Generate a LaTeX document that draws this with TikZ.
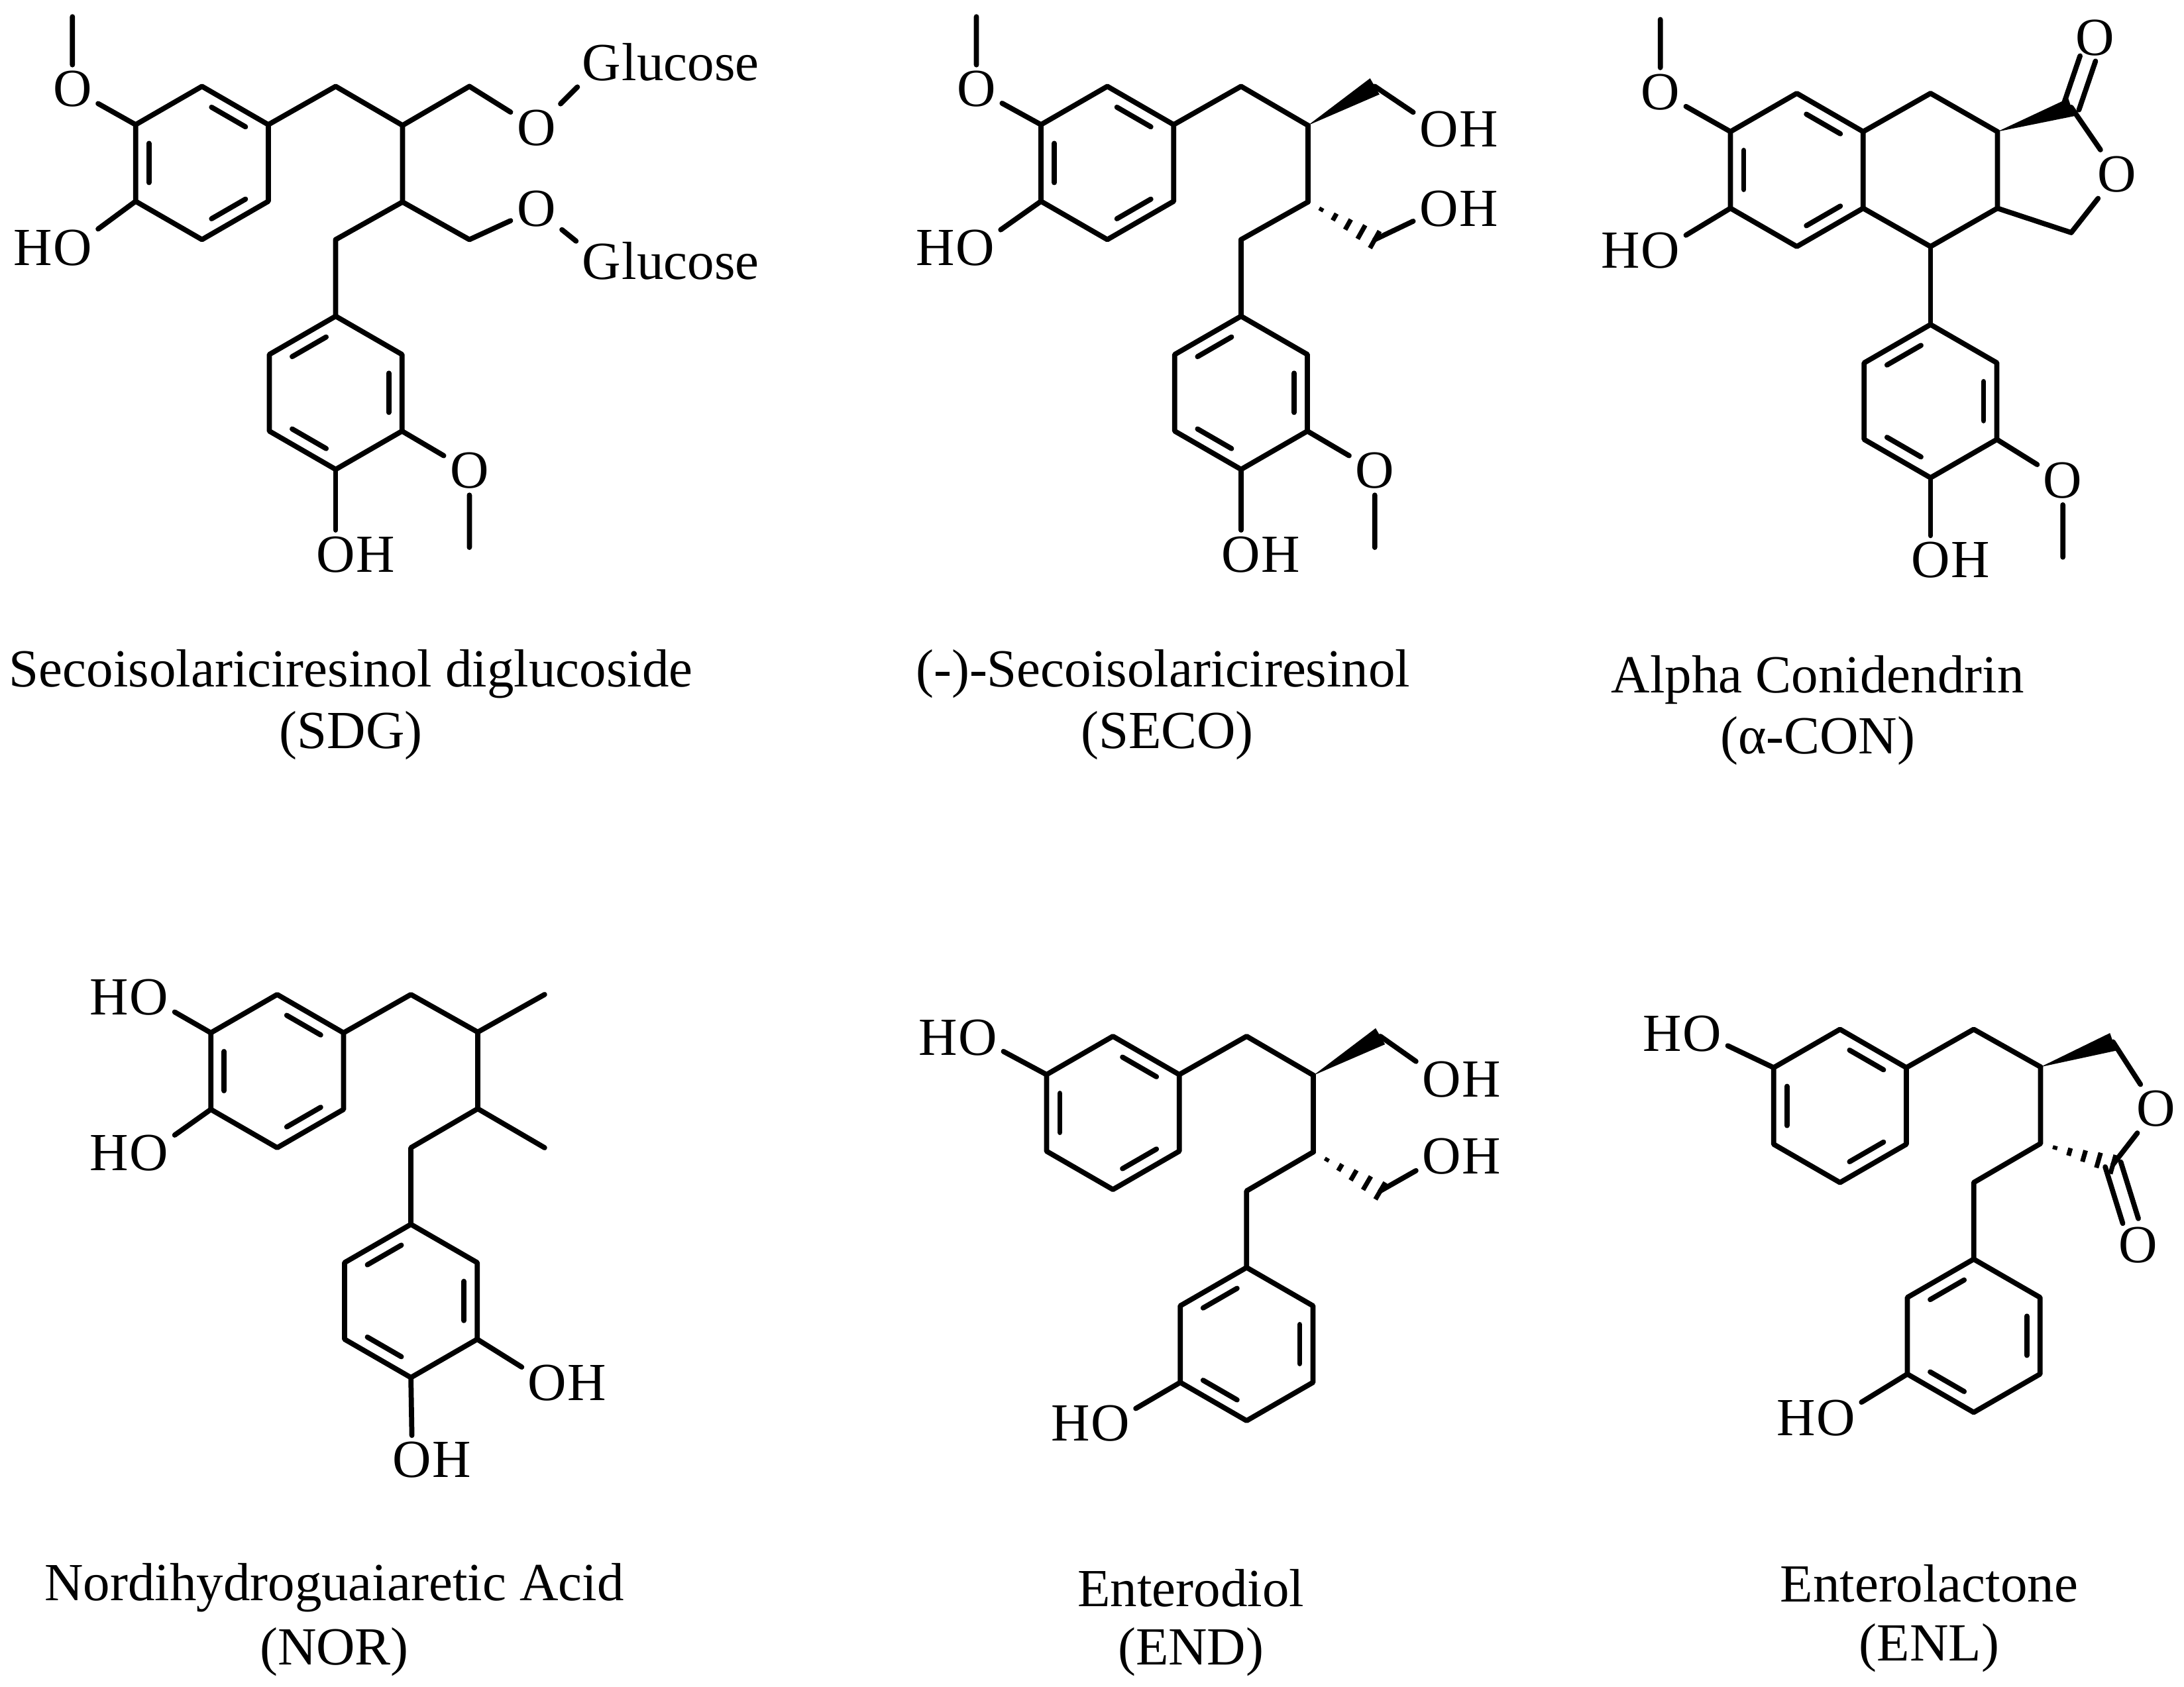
\documentclass[tikz,border=0pt]{standalone}
\usepackage{fontspec}
\setmainfont{Liberation Serif}
\usetikzlibrary{calc}
\newcommand\af{\fontsize{23}{27}\selectfont}
\tikzset{
  bond/.style={line width=2.2pt, line cap=round, line join=round},
  atom/.style={inner sep=2.5pt, font=\af},
  hl/.style={inner sep=0pt, font=\af},
  title/.style={inner sep=0pt, font=\af}
}
\newcommand\hexring[4]{%
  \coordinate (#1c) at (#2,#3);
  \foreach \k/\a in {1/-90,2/-30,3/30,4/90,5/150,6/210}{\coordinate (#1\k) at ($(#1c)+(\a:55)$);}
  \draw[bond] (#11)--(#12)--(#13)--(#14)--(#15)--(#16)--cycle;
  \foreach \i/\j in {#4}{\draw[bond] ($(#1\i)!.18!(#1\j)!.2!(#1c)$) -- ($(#1\j)!.18!(#1\i)!.2!(#1c)$);}
}
\newcommand\bwedge[2]{\fill (#1) -- ($(#2)!4pt!90:(#1)$) -- ($(#2)!4pt!-90:(#1)$) -- cycle;}
\newcommand\hwedge[2]{\foreach \t in {0.2,0.4,0.6,0.8,1.0}{\pgfmathsetmacro\w{4.2*\t}\draw[line width=2pt] ($(#1)!\t!(#2)!\w pt!90:(#1)$) -- ($(#1)!\t!(#2)!\w pt!-90:(#1)$);}}
\newcommand\OH[3]{\node[atom] (#1) at (#2,#3) {O}; \node[hl, anchor=base west] at ([xshift=-2.5pt]#1.base east) {H};}
\newcommand\HO[3]{\node[atom] (#1) at (#2,#3) {O}; \node[hl, anchor=base east] at ([xshift=2.5pt]#1.base west) {H};}
\newcommand\dbl[3]{%
  \coordinate (#3) at ($(#2)!0.3!(#1)$);
  \draw[bond] ($(#1)!3.5pt!90:(#3)$) -- ($(#3)!3.5pt!-90:(#1)$);
  \draw[bond] ($(#1)!3.5pt!-90:(#3)$) -- ($(#3)!3.5pt!90:(#1)$);}
\begin{document}
\begin{tikzpicture}[x=0.021cm,y=-0.021cm]
\useasboundingbox[fill=white] (0,0) rectangle (1568,1211);

% ---------- SDG ----------
\hexring{sa}{145}{117}{1/2,5/6,3/4}
\hexring{sb}{241}{282}{6/1,2/3,4/5}
\coordinate (s1) at (241,62); \coordinate (s2) at (289,90); \coordinate (s3) at (337,62);
\coordinate (s4) at (289,145); \coordinate (s5) at (337,172); \coordinate (s6) at (241,172);
\node[atom] (sO1) at (385,92) {O}; \node[atom] (sO2) at (385,150) {O};
\node[atom] (sG1) at (432,45) {G}; \node[hl,anchor=base west] at ([xshift=-2.5pt]sG1.base east) {lucose};
\node[atom] (sG2) at (432,188) {G}; \node[hl,anchor=base west] at ([xshift=-2.5pt]sG2.base east) {lucose};
\draw[bond] (sa2)--(s1)--(s2)--(s3)--(sO1); \draw[bond] (sO1)--(sG1);
\draw[bond] (s2)--(s4)--(s5)--(sO2); \draw[bond] (sO2)--(sG2);
\draw[bond] (s4)--(s6)--(sb1);
\node[atom] (sOm) at (52,64) {O}; \coordinate (sMe) at (52,12);
\draw[bond] (sa6)--(sOm)--(sMe);
\HO{sOh}{52}{178} \draw[bond] (sa5)--(sOh);
\node[atom] (sbO) at (337,338) {O}; \coordinate (sbMe) at (337,393);
\draw[bond] (sb3)--(sbO)--(sbMe);
\OH{sbOH}{241}{398} \draw[bond] (sb4)--(sbOH);
\node[title] (t1) at (252,484) {Secoisolariciresinol diglucoside};
\node[title] (t1b) at (252,528) {(SDG)};

% ---------- SECO ----------
\hexring{ea}{795}{117}{1/2,5/6,3/4}
\hexring{eb}{891}{282}{6/1,2/3,4/5}
\coordinate (e1) at (891,62); \coordinate (e2) at (939,90); \coordinate (e3) at (987,62);
\coordinate (e4) at (939,145); \coordinate (e5) at (987,172); \coordinate (e6) at (891,172);
\OH{eOH1}{1033}{93} \OH{eOH2}{1033}{150}
\draw[bond] (ea2)--(e1)--(e2); \bwedge{e2}{e3} \draw[bond] (e3)--(eOH1);
\draw[bond] (e2)--(e4); \hwedge{e4}{e5} \draw[bond] (e5)--(eOH2);
\draw[bond] (e4)--(e6)--(eb1);
\node[atom] (eOm) at (701,64) {O}; \coordinate (eMe) at (701,12);
\draw[bond] (ea6)--(eOm)--(eMe);
\HO{eOh}{700}{178} \draw[bond] (ea5)--(eOh);
\node[atom] (ebO) at (987,338) {O}; \coordinate (ebMe) at (987,393);
\draw[bond] (eb3)--(ebO)--(ebMe);
\OH{ebOH}{891}{398} \draw[bond] (eb4)--(ebOH);
\node[title] (t2) at (835,484) {(-)-Secoisolariciresinol};
\node[title] (t2b) at (838,528) {(SECO)};

% ---------- alpha-CON ----------
\hexring{ca}{1290}{122}{1/2,5/6,3/4}
\hexring{cb}{1386}{288}{6/1,2/3,4/5}
\coordinate (c1) at (1386,67); \coordinate (c2) at (1434,94.5);
\coordinate (c3) at (1434,149.5); \coordinate (c4) at (1386,177);
\coordinate (cC) at (1487,77); \coordinate (cH2) at (1487,167);
\node[atom] (cOr) at (1520,125) {O}; \node[atom] (cO) at (1504,27) {O};
\draw[bond] (ca2)--(c1)--(c2)--(c3)--(c4)--(ca3);
\bwedge{c2}{cC}
\draw[bond] (cC)--(cOr)--(cH2)--(c3);
\dbl{cC}{cO}{cOe}
\draw[bond] (c4)--(cb1);
\node[atom] (cOm) at (1192,66) {O}; \coordinate (cMe) at (1192,14);
\draw[bond] (ca6)--(cOm)--(cMe);
\HO{cOh}{1192}{180} \draw[bond] (ca5)--(cOh);
\node[atom] (cbO) at (1481,345) {O}; \coordinate (cbMe) at (1481,400);
\draw[bond] (cb3)--(cbO)--(cbMe);
\OH{cbOH}{1386}{402} \draw[bond] (cb4)--(cbOH);
\node[title] (t3) at (1305,488) {Alpha Conidendrin};
\node[title] (t3b) at (1305,532) {(α-CON)};

% ---------- NOR ----------
\hexring{na}{199}{769}{1/2,5/6,3/4}
\hexring{nb}{295}{934}{6/1,2/3,4/5}
\coordinate (n1) at (295,714); \coordinate (n2) at (343,741); \coordinate (nMe1) at (391,714);
\coordinate (n3) at (343,796); \coordinate (nMe2) at (391,824); \coordinate (n4) at (295,824);
\draw[bond] (na2)--(n1)--(n2)--(nMe1); \draw[bond] (n2)--(n3)--(nMe2);
\draw[bond] (n3)--(n4)--(nb1);
\HO{nOh1}{107}{716} \draw[bond] (na6)--(nOh1);
\HO{nOh2}{107}{828} \draw[bond] (na5)--(nOh2);
\OH{nOh3}{393}{993} \draw[bond] (nb3)--(nOh3);
\OH{nOh4}{296}{1048} \draw[bond] (nb4)--(nOh4);
\node[title] (t4) at (240,1140) {Nordihydroguaiaretic Acid};
\node[title] (t4b) at (240,1186) {(NOR)};

% ---------- END ----------
\hexring{da}{799}{799}{1/2,5/6,3/4}
\hexring{db}{895}{965}{6/1,2/3,4/5}
\coordinate (d1) at (895,744); \coordinate (d2) at (943,772); \coordinate (d3) at (991,744);
\coordinate (d4) at (943,827); \coordinate (d5) at (991,855); \coordinate (d6) at (895,855);
\OH{dOH1}{1035}{775} \OH{dOH2}{1035}{830}
\draw[bond] (da2)--(d1)--(d2); \bwedge{d2}{d3} \draw[bond] (d3)--(dOH1);
\draw[bond] (d2)--(d4); \hwedge{d4}{d5} \draw[bond] (d5)--(dOH2);
\draw[bond] (d4)--(d6)--(db1);
\HO{dOh1}{702}{745} \draw[bond] (da6)--(dOh1);
\HO{dOh2}{797}{1022} \draw[bond] (db5)--(dOh2);
\node[title] (t5) at (855,1140) {Enterodiol};
\node[title] (t5b) at (855,1186) {(END)};

% ---------- ENL ----------
\hexring{la}{1321}{794}{1/2,5/6,3/4}
\hexring{lb}{1417}{959}{6/1,2/3,4/5}
\coordinate (l1) at (1417,739); \coordinate (l2) at (1465,766); \coordinate (lCH) at (1517,748);
\node[atom] (lOr) at (1548,796) {O}; \coordinate (lC) at (1517,836);
\coordinate (l3) at (1465,821); \coordinate (l4) at (1417,849);
\node[atom] (lO) at (1535,894) {O};
\draw[bond] (la2)--(l1)--(l2); \bwedge{l2}{lCH}
\draw[bond] (lCH)--(lOr)--(lC);
\hwedge{l3}{lC}
\dbl{lC}{lO}{lOe}
\draw[bond] (l2)--(l3)--(l4)--(lb1);
\HO{lOh1}{1222}{742} \draw[bond] (la6)--(lOh1);
\HO{lOh2}{1318}{1018} \draw[bond] (lb5)--(lOh2);
\node[title] (t6) at (1385,1137) {Enterolactone};
\node[title] (t6b) at (1385,1183) {(ENL)};
\end{tikzpicture}
\end{document}
